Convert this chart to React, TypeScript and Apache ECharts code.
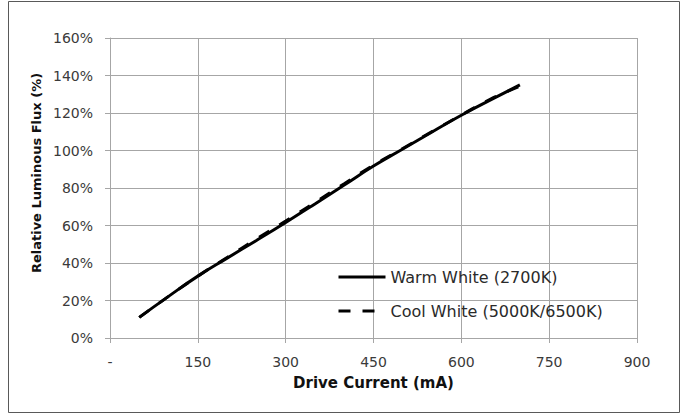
import React, { useEffect, useRef } from "react";
import * as echarts from "echarts";

const currents = [50, 100, 150, 200, 250, 300, 350, 400, 450, 500, 550, 600, 650, 700];
const warmWhite = [11, 22.2, 33, 42.6, 52, 61.6, 71.5, 81.6, 91.7, 100.8, 109.9, 118.8, 127, 135];
const coolWhite = [11, 22.2, 33, 42.9, 52.8, 62.4, 72.3, 82.3, 92.2, 101.1, 110.1, 118.9, 127.4, 134.3];
const xTicks = [0, 150, 300, 450, 600, 750, 900];
const yTicks = [0, 20, 40, 60, 80, 100, 120, 140, 160];

const FONT = "DejaVu Sans";
const GRID = "#a6a6a6";

export default function App() {
  const ref = useRef<HTMLDivElement>(null);
  useEffect(() => {
    if (!ref.current) return;
    const chart = echarts.init(ref.current, null, { renderer: "svg" });
    const warm = currents.map((c, i) => [c, warmWhite[i]]);
    const cool = currents.map((c, i) => [c, coolWhite[i]]);
    chart.setOption({
      animation: false,
      backgroundColor: "#ffffff",
      grid: { left: 110, right: 51, top: 38, bottom: 77, containLabel: false },
      xAxis: {
        type: "value",
        min: xTicks[0],
        max: xTicks[xTicks.length - 1],
        interval: 150,
        axisLine: { show: true, lineStyle: { color: GRID, width: 1 } },
        axisTick: { show: true, length: 5, lineStyle: { color: GRID } },
        splitLine: { show: true, lineStyle: { color: GRID, width: 1 } },
        axisLabel: {
          margin: 17,
          color: "#3a3a3a",
          fontFamily: FONT,
          fontSize: 14,
          formatter: (v: number) => (v === 0 ? "-" : String(v)),
        },
        name: "Drive Current (mA)",
        nameLocation: "middle",
        nameGap: 37,
        nameTextStyle: { color: "#111111", fontFamily: FONT, fontSize: 15, fontWeight: "bold" },
      },
      yAxis: {
        type: "value",
        min: yTicks[0],
        max: yTicks[yTicks.length - 1],
        interval: 20,
        axisLine: { show: true, lineStyle: { color: GRID, width: 1 } },
        axisTick: { show: true, length: 5, lineStyle: { color: GRID } },
        splitLine: { show: true, lineStyle: { color: GRID, width: 1 } },
        axisLabel: {
          margin: 17,
          color: "#3a3a3a",
          fontFamily: FONT,
          fontSize: 14,
          formatter: (v: number) => v + "%",
        },
      },
      legend: {
        orient: "vertical",
        left: 337,
        top: 269,
        padding: 0,
        itemWidth: 47,
        itemHeight: 16,
        itemGap: 18,
        itemStyle: { opacity: 0 },
        lineStyle: { width: 3 },
        textStyle: { color: "#2a2a2a", fontFamily: FONT, fontSize: 16 },
        data: ["Warm White (2700K)", "Cool White (5000K/6500K)"],
      },
      graphic: [
        {
          type: "rect",
          shape: { x: 8.5, y: 1.5, width: 671, height: 411 },
          style: { fill: "none", stroke: "#595959", lineWidth: 1 },
          silent: true,
        },
        {
          type: "text",
          x: 36,
          y: 173,
          rotation: Math.PI / 2,
          style: {
            text: "Relative Luminous Flux (%)",
            fill: "#111111",
            font: "bold 13px " + FONT,
            align: "center",
            verticalAlign: "middle",
          },
        },
      ],
      series: [
        {
          name: "Cool White (5000K/6500K)",
          type: "line",
          data: cool,
          symbol: "none",
          smooth: true,
          lineStyle: { color: "#000000", width: 3, type: [12, 12] },
          itemStyle: { color: "#000000" },
          z: 2,
        },
        {
          name: "Warm White (2700K)",
          type: "line",
          data: warm,
          symbol: "none",
          smooth: true,
          lineStyle: { color: "#000000", width: 3, type: "solid" },
          itemStyle: { color: "#000000" },
          z: 3,
        },
      ],
    });
    return () => chart.dispose();
  }, []);
  return (
    <div
      ref={ref}
      style={{ position: "fixed", left: 0, top: 0, width: 688, height: 415 }}
    />
  );
}
